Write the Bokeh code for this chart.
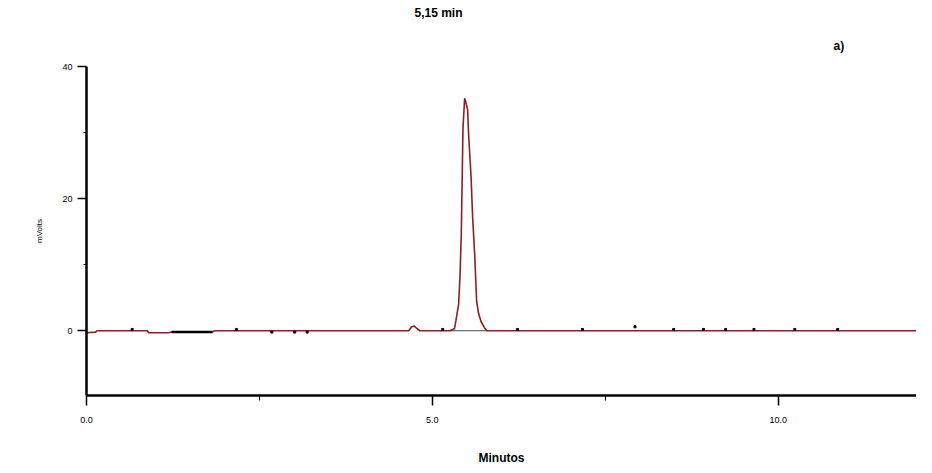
from bokeh.plotting import figure
from bokeh.models import Range1d, Title, FixedTicker
from bokeh.embed import file_html
from bokeh.resources import INLINE

# chromatogram trace (minutes, mVolts)
trace_t = [0.0, 0.13, 0.15, 0.88, 0.90, 1.18, 1.23, 1.82, 1.85, 4.66, 4.70, 4.74, 4.78, 4.82,
           5.25, 5.32, 5.342, 5.38, 5.40, 5.419, 5.443, 5.467, 5.487, 5.511, 5.525, 5.559,
           5.583, 5.612, 5.641, 5.669, 5.704, 5.751, 5.785, 12.2]
trace_mv = [-0.3, -0.2, 0.0, 0.0, -0.3, -0.3, -0.2, -0.2, 0.0, 0.0, 0.6, 0.7, 0.3, 0.0,
            0.0, 0.3, 1.6, 4.0, 8.2, 14.8, 30.6, 35.2, 34.5, 33.4, 29.6, 23.5,
            17.1, 11.6, 4.4, 2.6, 1.4, 0.5, 0.0, 0.0]

# dark baseline segments
seg1_t = [1.23, 1.82]
seg1_mv = [-0.2, -0.2]
seg2_t = [5.25, 5.78]
seg2_mv = [0.0, 0.0]

# small event marks on baseline
mark_t = [0.66, 2.17, 2.68, 3.01, 3.19, 5.15, 6.23, 7.17, 7.93, 8.49, 8.92, 9.24, 9.65, 10.24, 10.86]
mark_mv = [0.2, 0.2, -0.2, -0.2, -0.2, 0.2, 0.2, 0.2, 0.6, 0.2, 0.2, 0.2, 0.2, 0.2, 0.2]

y_ticks = [0, 20, 40]
x_ticks = [0, 5, 10]

p = figure(width=916, height=467, output_backend="svg", toolbar_location=None,
           x_range=Range1d(0, 12.0), y_range=Range1d(-9.8, 40),
           min_border_left=86, min_border_right=0, min_border_top=66, min_border_bottom=72)
p.outline_line_color = None
p.xgrid.visible = False
p.ygrid.visible = False

p.line(trace_t, trace_mv, line_color="#8b2020", line_width=1.6)
p.line(seg1_t, seg1_mv, line_color="black", line_width=2.5)
p.line(seg2_t, seg2_mv, line_color="#444444", line_width=1.2)
p.scatter(mark_t, mark_mv, marker="square", size=2, color="black")

font = "Liberation Sans"
for ax in (p.xaxis, p.yaxis):
    ax.axis_line_width = 2.5
    ax.axis_line_color = "black"
    ax.major_tick_line_color = "black"
    ax.minor_tick_line_color = "black"
    ax.major_tick_line_width = 1.5
    ax.major_tick_in = 0
    ax.minor_tick_in = 0
    ax.major_label_text_font = font
    ax.major_label_text_font_size = "9px"
    ax.major_label_text_color = "black"

p.yaxis.ticker = FixedTicker(ticks=y_ticks, minor_ticks=[10, 30])
p.xaxis.ticker = FixedTicker(ticks=x_ticks, minor_ticks=[2.5, 7.5])
p.xaxis.major_label_overrides = {0: "0.0", 5: "5.0", 10: "10.0"}
p.yaxis.major_tick_out = 9
p.yaxis.minor_tick_out = 3
p.xaxis.major_tick_out = 10
p.xaxis.minor_tick_out = 5
p.xaxis.major_label_standoff = 11
p.yaxis.major_label_standoff = 5

p.xaxis.axis_label = "Minutos"
p.xaxis.axis_label_text_font = font
p.xaxis.axis_label_text_font_style = "bold"
p.xaxis.axis_label_text_font_size = "12px"
p.xaxis.axis_label_text_color = "black"
p.xaxis.axis_label_standoff = 25

p.yaxis.axis_label = "mVolts"
p.yaxis.axis_label_text_font = font
p.yaxis.axis_label_text_font_style = "normal"
p.yaxis.axis_label_text_font_size = "8px"
p.yaxis.axis_label_text_color = "black"
p.yaxis.axis_label_standoff = 15

p.title.text = "5,15 min"
p.title.align = "left"
p.title.offset = 328
p.title.standoff = 5
p.title.text_font = font
p.title.text_font_style = "bold"
p.title.text_font_size = "12px"
p.title.text_color = "black"

p.add_layout(Title(text="a)", align="left", offset=747, standoff=28, text_font=font,
                   text_font_style="bold", text_font_size="12px", text_color="black"), "above")

open("out.html", "w").write(file_html(p, INLINE))
